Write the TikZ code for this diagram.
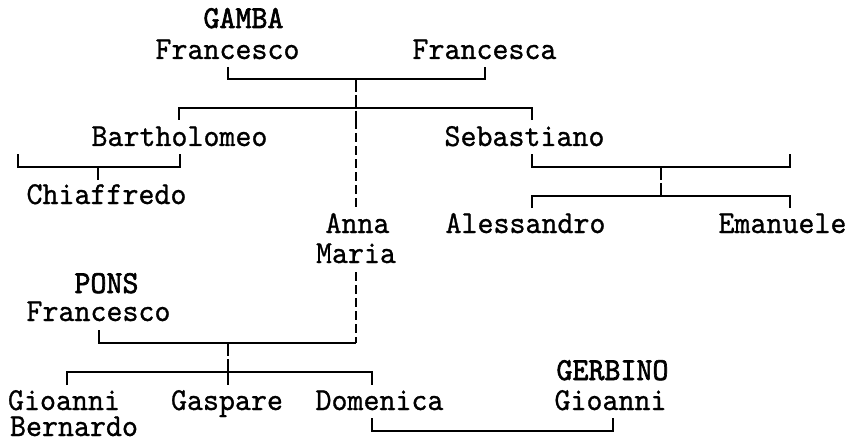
\documentclass[tikz,border=0pt]{standalone}
\usepackage{fontspec}
\usepackage{tikz}
\usetikzlibrary{positioning}
\newfontfamily\chartfont{lmmono10-regular.otf}[FakeStretch=0.952,FakeBold=0.8]
\newfontfamily\chartbold{lmmono10-regular.otf}[FakeStretch=0.952,FakeBold=2]

\begin{document}
\begin{tikzpicture}[
			x=1pt,y=-1pt,
			line width=1.6pt,
			every node/.style={
				inner sep=0pt,
				anchor=base,
				text height=19pt,
				text depth=4pt,
				font=\chartfont\fontsize{32}{32}\selectfont
			},
			surname/.style={
				font=\chartbold\fontsize{32}{32}\selectfont
			},
			linkdash/.style={
				dash pattern=on 9pt off 4pt
			},
			rowtick/.style={
				dash pattern=on 13pt off 3pt
			}
			]
			
			\useasboundingbox (0,0) rectangle (848,441);
			
			%%%%%%%%%%%%%%%%%%%%%%%%%%%%%%%%%%%%%%%%%%%%%%%%%%%%%%
			% Names
			%%%%%%%%%%%%%%%%%%%%%%%%%%%%%%%%%%%%%%%%%%%%%%%%%%%%%%
			
			\node[surname] (gamba) at (243.5,28) {GAMBA};
			\node (gfrancesco) at (227.5,59) {Francesco};
			\node (francesca) at (484.5,59) {Francesca};
			
			\node (bartholomeo) at (179.5,146) {Bartholomeo};
			\node (sebastiano) at (524.5,146) {Sebastiano};
			
			\node (chiaffredo) at (106.5,204) {Chiaffredo};
			
			\node (anna) at (357.5,233) {Anna};
			\node (maria) at (356,263) {Maria};
			\node (alessandro) at (525.5,233) {Alessandro};
			\node (emanuele) at (782.5,233) {Emanuele};
			
			\node[surname] (pons) at (106.5,293) {PONS};
			\node (pfrancesco) at (98.5,321) {Francesco};
			
			\node (gioanni) at (64,410) {Gioanni};
			\node (bernardo) at (74,436) {Bernardo};
			\node (gaspare) at (227,410) {Gaspare};
			\node (domenica) at (379.5,410) {Domenica};
			
			\node[surname] (gerbino) at (612.5,380) {GERBINO};
			\node (ggioanni) at (610.5,410) {Gioanni};
			
			%%%%%%%%%%%%%%%%%%%%%%%%%%%%%%%%%%%%%%%%%%%%%%%%%%%%%%
			% Joints
			%%%%%%%%%%%%%%%%%%%%%%%%%%%%%%%%%%%%%%%%%%%%%%%%%%%%%%
			
			\coordinate (gambaL) at (228,67);
			\coordinate (gambaR) at (485,67);
			\coordinate (gambaM) at (356,79);
			\coordinate (gambaX) at (356,120);
			\coordinate (annaT) at (356,208);
			\coordinate (bartT) at (179,120);
			\coordinate (sebaT) at (532,120);
			
			\coordinate (bartL) at (18,154);
			\coordinate (bartR) at (180,154);
			\coordinate (bartM) at (98,167);
			\coordinate (chiaT) at (98,180);
			
			\coordinate (sebaL) at (532,154);
			\coordinate (sebaR) at (790,154);
			\coordinate (sebaM) at (661,167);
			\coordinate (sebaK) at (661,196);
			\coordinate (alesT) at (532,208);
			\coordinate (emanT) at (790,208);
			
			\coordinate (mariaB) at (356,272);
			\coordinate (ponsL) at (99,330);
			\coordinate (ponsM) at (228,343);
			\coordinate (ponsK) at (228,372);
			\coordinate (gioaT) at (67,385);
			\coordinate (gaspT) at (228,385);
			\coordinate (domeT) at (372,385);
			
			\coordinate (domeB) at (372,418);
			\coordinate (gerbB) at (613,418);
			
			%%%%%%%%%%%%%%%%%%%%%%%%%%%%%%%%%%%%%%%%%%%%%%%%%%%%%%
			% GAMBA family
			%%%%%%%%%%%%%%%%%%%%%%%%%%%%%%%%%%%%%%%%%%%%%%%%%%%%%%
			
			\draw (gambaL) |- (gambaM) -| (gambaR);
			\draw[rowtick] (gambaM) -- (gambaX);
			\draw[linkdash] (gambaX) -- (annaT);
			\draw (bartT) |- ([yshift=12pt]gambaX) -| (sebaT);
			
			\draw (bartL) |- (bartM) -| (bartR);
			\draw (bartM) -- (chiaT);
			
			\draw (sebaL) |- (sebaM) -| (sebaR);
			\draw[rowtick] (sebaM) -- (sebaK);
			\draw (alesT) |- (sebaK) -| (emanT);
			
			%%%%%%%%%%%%%%%%%%%%%%%%%%%%%%%%%%%%%%%%%%%%%%%%%%%%%%
			% PONS family
			%%%%%%%%%%%%%%%%%%%%%%%%%%%%%%%%%%%%%%%%%%%%%%%%%%%%%%
			
			\draw[linkdash] (mariaB) -- (mariaB |- ponsM);
			\draw (ponsL) |- (mariaB |- ponsM);
			\draw[rowtick] (ponsM) -- (ponsK);
			\draw (gioaT) |- (ponsK) -| (domeT);
			\draw (ponsK) -- (gaspT);
			
			\draw (domeB) |- ([yshift=-13pt]domeB -| gerbB) -- (gerbB);
			
			%%%%%%%%%%%%%%%%%%%%%%%%%%%%%%%%%%%%%%%%%%%%%%%%%%%%%%
			
		\end{tikzpicture}
\end{document}
